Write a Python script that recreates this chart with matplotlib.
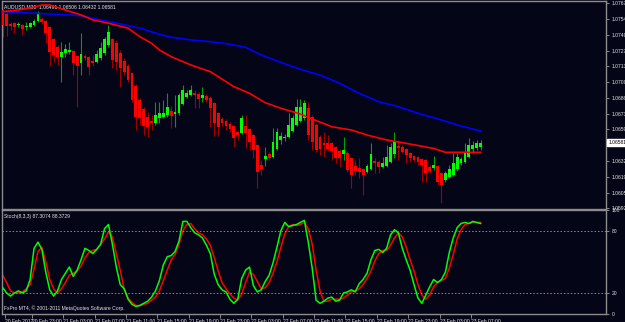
import matplotlib.pyplot as plt
from matplotlib import font_manager
from matplotlib.transforms import blended_transform_factory

# MT4 uses a small narrow font; take a narrow family when one is there
_names = {f.name for f in font_manager.fontManager.ttflist}
if 'Liberation Sans Narrow' in _names:
    FONT, FS = 'Liberation Sans Narrow', 4.3
else:
    FONT, FS = 'Liberation Sans', 3.6
plt.rcParams['font.family'] = [FONT, 'DejaVu Sans']

# AUDUSD M30 candles, oldest first
opens = [1.07617, 1.07583, 1.07498, 1.07506, 1.07485, 1.07489, 1.07468, 1.07472, 1.07489, 1.07523,
         1.07540, 1.07523, 1.07472, 1.07369, 1.07301, 1.07215, 1.07249, 1.07258, 1.07266, 1.07224,
         1.07164, 1.07224, 1.07215, 1.07177, 1.07172, 1.07207, 1.07249, 1.07318, 1.07369, 1.07335,
         1.07249, 1.07181, 1.07138, 1.07078, 1.06967, 1.06847, 1.06770, 1.06701, 1.06667, 1.06650,
         1.06693, 1.06701, 1.06719, 1.06753, 1.06731, 1.06736, 1.06813, 1.06873, 1.06890, 1.06907,
         1.06898, 1.06864, 1.06881, 1.06864, 1.06821, 1.06736, 1.06684, 1.06667, 1.06642, 1.06624,
         1.06573, 1.06565, 1.06624, 1.06599, 1.06547, 1.06462, 1.06291, 1.06342, 1.06385, 1.06359,
         1.06428, 1.06505, 1.06522, 1.06530, 1.06582, 1.06633, 1.06667, 1.06693, 1.06779, 1.06701,
         1.06633, 1.06530, 1.06479, 1.06479, 1.06479, 1.06445, 1.06410, 1.06385, 1.06393, 1.06350,
         1.06282, 1.06265, 1.06256, 1.06231, 1.06256, 1.06325, 1.06316, 1.06273, 1.06282, 1.06316,
         1.06385, 1.06445, 1.06445, 1.06428, 1.06393, 1.06367, 1.06359, 1.06342, 1.06333, 1.06273,
         1.06265, 1.06282, 1.06222, 1.06162, 1.06188, 1.06205, 1.06256, 1.06308, 1.06316, 1.06359,
         1.06428, 1.06436, 1.06445]
highs = [1.07626, 1.07600, 1.07515, 1.07515, 1.07515, 1.07498, 1.07515, 1.07515, 1.07540, 1.07609,
         1.07557, 1.07532, 1.07480, 1.07378, 1.07318, 1.07343, 1.07326, 1.07343, 1.07275, 1.07232,
         1.07420, 1.07241, 1.07224, 1.07232, 1.07275, 1.07343, 1.07386, 1.07489, 1.07378, 1.07361,
         1.07275, 1.07207, 1.07155, 1.07087, 1.06984, 1.06864, 1.06787, 1.06744, 1.06719, 1.06830,
         1.06830, 1.06847, 1.06907, 1.06796, 1.06890, 1.06907, 1.06975, 1.06933, 1.06975, 1.06933,
         1.06915, 1.06958, 1.06898, 1.06881, 1.06830, 1.06744, 1.06701, 1.06684, 1.06659, 1.06633,
         1.06590, 1.06719, 1.06719, 1.06607, 1.06556, 1.06470, 1.06333, 1.06445, 1.06402, 1.06607,
         1.06607, 1.06573, 1.06556, 1.06736, 1.06719, 1.06856, 1.06856, 1.06847, 1.06830, 1.06719,
         1.06650, 1.06547, 1.06573, 1.06547, 1.06488, 1.06453, 1.06428, 1.06530, 1.06410, 1.06359,
         1.06333, 1.06350, 1.06265, 1.06299, 1.06479, 1.06350, 1.06333, 1.06359, 1.06462, 1.06479,
         1.06573, 1.06505, 1.06462, 1.06436, 1.06402, 1.06376, 1.06367, 1.06350, 1.06342, 1.06291,
         1.06367, 1.06291, 1.06231, 1.06239, 1.06291, 1.06393, 1.06393, 1.06359, 1.06479, 1.06522,
         1.06496, 1.06505, 1.06505]
lows = [1.07386, 1.07395, 1.07446, 1.07420, 1.07472, 1.07403, 1.07446, 1.07463, 1.07480, 1.07515,
        1.07498, 1.07335, 1.07138, 1.07172, 1.07147, 1.07001, 1.07215, 1.07241, 1.07061, 1.06787,
        1.07061, 1.07189, 1.07061, 1.07138, 1.07164, 1.07189, 1.07232, 1.07301, 1.07121, 1.07104,
        1.06958, 1.07061, 1.07001, 1.06830, 1.06590, 1.06633, 1.06547, 1.06530, 1.06590, 1.06633,
        1.06650, 1.06693, 1.06701, 1.06607, 1.06616, 1.06719, 1.06804, 1.06864, 1.06881, 1.06779,
        1.06779, 1.06830, 1.06830, 1.06616, 1.06539, 1.06539, 1.06624, 1.06590, 1.06573, 1.06445,
        1.06505, 1.06556, 1.06436, 1.06419, 1.06350, 1.06094, 1.06205, 1.06282, 1.06333, 1.06350,
        1.06419, 1.06470, 1.06496, 1.06522, 1.06573, 1.06624, 1.06659, 1.06676, 1.06505, 1.06419,
        1.06402, 1.06376, 1.06359, 1.06410, 1.06333, 1.06308, 1.06273, 1.06333, 1.06231, 1.06094,
        1.06205, 1.06179, 1.06034, 1.06222, 1.06248, 1.06222, 1.06222, 1.06265, 1.06273, 1.06308,
        1.06350, 1.06333, 1.06393, 1.06308, 1.06316, 1.06316, 1.06291, 1.06145, 1.06145, 1.06222,
        1.06248, 1.06119, 1.05965, 1.06145, 1.06179, 1.06196, 1.06239, 1.06291, 1.06308, 1.06350,
        1.06393, 1.06419, 1.06419]
closes = [1.07489, 1.07480, 1.07480, 1.07472, 1.07493, 1.07455, 1.07480, 1.07506, 1.07523, 1.07592,
          1.07515, 1.07420, 1.07258, 1.07232, 1.07215, 1.07258, 1.07284, 1.07275, 1.07164, 1.07138,
          1.07241, 1.07207, 1.07130, 1.07164, 1.07241, 1.07292, 1.07369, 1.07429, 1.07189, 1.07172,
          1.07121, 1.07087, 1.07018, 1.06847, 1.06701, 1.06693, 1.06624, 1.06616, 1.06650, 1.06719,
          1.06736, 1.06736, 1.06787, 1.06710, 1.06740, 1.06890, 1.06933, 1.06907, 1.06933, 1.06890,
          1.06856, 1.06890, 1.06847, 1.06779, 1.06650, 1.06616, 1.06650, 1.06624, 1.06599, 1.06522,
          1.06547, 1.06693, 1.06565, 1.06488, 1.06419, 1.06231, 1.06256, 1.06367, 1.06350, 1.06488,
          1.06573, 1.06539, 1.06530, 1.06633, 1.06693, 1.06787, 1.06787, 1.06821, 1.06547, 1.06488,
          1.06419, 1.06428, 1.06462, 1.06428, 1.06410, 1.06350, 1.06350, 1.06419, 1.06248, 1.06205,
          1.06239, 1.06231, 1.06205, 1.06282, 1.06385, 1.06308, 1.06273, 1.06308, 1.06359, 1.06445,
          1.06488, 1.06440, 1.06402, 1.06376, 1.06350, 1.06333, 1.06316, 1.06291, 1.06222, 1.06239,
          1.06291, 1.06145, 1.06119, 1.06222, 1.06256, 1.06308, 1.06359, 1.06342, 1.06402, 1.06462,
          1.06462, 1.06479, 1.06479]

# moving averages, read at these bars
slow_ma_bars = [0, 10, 20, 25, 30, 35, 40, 43, 48, 53, 58, 62, 66, 70, 74, 78, 81, 86, 91, 96, 101, 106, 112, 117, 122]
slow_ma = [1.07603, 1.07586, 1.07569, 1.07532, 1.07498, 1.07461, 1.07409, 1.07384, 1.07361, 1.07346,
           1.07324, 1.07298, 1.07232, 1.07181, 1.07132, 1.07089, 1.07061, 1.06990, 1.06904, 1.06832,
           1.06790, 1.06733, 1.06676, 1.06624, 1.06582]
fast_ma_bars = [0, 4, 8, 10, 12, 16, 20, 23, 27, 32, 35, 38, 40, 43, 48, 53, 59, 63, 67, 71, 76, 79, 84, 89, 93, 98, 103, 110, 113, 122]
fast_ma = [1.07603, 1.07617, 1.07641, 1.07660, 1.07660, 1.07617, 1.07575, 1.07532, 1.07504, 1.07461,
           1.07389, 1.07332, 1.07275, 1.07218, 1.07147, 1.07089, 1.06961, 1.06904, 1.06824, 1.06776,
           1.06727, 1.06684, 1.06618, 1.06590, 1.06547, 1.06505, 1.06476, 1.06432, 1.06399, 1.06399]

# Stochastic(8,3,3): main and signal
stoch_main = [25, 20, 17, 20, 22, 20, 22, 33, 63, 69, 62, 40, 23, 17, 22, 33, 39, 45, 36, 42,
              52, 63, 61, 58, 62, 67, 82, 86, 67, 45, 28, 24, 14, 9, 7, 8, 10, 12, 16, 22,
              32, 47, 55, 56, 60, 70, 89, 89, 83, 78, 76, 73, 66, 58, 38, 28, 23, 21, 14, 10,
              14, 34, 42, 45, 27, 21, 23, 31, 37, 49, 64, 80, 88, 84, 85, 86, 88, 90, 69, 44,
              13, 10, 12, 15, 16, 12, 13, 20, 21, 23, 21, 29, 33, 39, 52, 61, 62, 59, 63, 76,
              81, 78, 63, 52, 42, 28, 15, 10, 18, 26, 33, 30, 33, 40, 59, 73, 83, 87, 88, 87,
              89, 88, 87]
stoch_signal = [37, 30, 22, 20, 20, 21, 24, 28, 43, 60, 64, 50, 33, 24, 20, 24, 30, 37, 39, 41,
                46, 54, 59, 61, 62, 67, 72, 79, 74, 58, 42, 24, 15, 11, 8, 7.5, 9, 10, 13, 16,
                22, 32, 42, 52, 57, 67, 80, 86, 87, 82, 78, 76, 72, 66, 54, 41, 30, 24, 19, 15,
                13, 19, 30, 40, 38, 31, 24, 25, 30, 39, 50, 64, 77, 84, 86, 85, 86, 88, 82, 67,
                42, 22, 12, 12, 14, 14, 14, 15, 18, 21, 22, 24, 28, 34, 41, 51, 58, 61, 61, 66,
                73, 78, 74, 64, 52, 41, 28, 18, 14, 18, 26, 30, 32, 34, 44, 57, 72, 81, 86, 87,
                88, 88, 88]

price_ticks = [1.07675, 1.07540, 1.07405, 1.07270, 1.07135, 1.07000, 1.06865, 1.06730,
               1.06595, 1.06460, 1.06325, 1.06190, 1.06055, 1.05920]
stoch_ticks = [100, 80, 20, 0]
time_label_bars = [0, 7, 15, 23, 31, 39, 47, 55, 63, 71, 79, 87, 95, 103, 111, 119]
time_labels = ["20 Feb 2012", "20 Feb 23:00", "21 Feb 03:00", "21 Feb 07:00", "21 Feb 11:00",
               "21 Feb 15:00", "21 Feb 19:00", "21 Feb 23:00", "22 Feb 03:00", "22 Feb 07:00",
               "22 Feb 11:00", "22 Feb 15:00", "22 Feb 19:00", "22 Feb 23:00", "23 Feb 03:00",
               "23 Feb 07:00"]

BG = '#050518'
EDGE = '#8c8c8c'
TXT = '#e6e6e6'

fig = plt.figure(figsize=(6.25, 3.22), dpi=100, facecolor=BG)
W, H = 625, 322
ax = fig.add_axes([2 / W, (H - 209) / H, 604 / W, 208 / H])
ax2 = fig.add_axes([2 / W, (H - 314) / H, 604 / W, 104 / H])

for a in (ax, ax2):
    a.set_facecolor(BG)
    for s in a.spines.values():
        s.set_color(EDGE)
        s.set_linewidth(1.0)
    a.set_xlim(-0.18, 154.0)
    a.yaxis.tick_right()
    a.tick_params(axis='y', colors=EDGE, labelcolor=TXT, labelsize=FS, length=2.5, width=0.7, pad=1.5)

# candles
x = list(range(len(opens)))
up = [c >= o for o, c in zip(opens, closes)]
wick_col = ['#00a000' if u else '#a00000' for u in up]
body_col = ['#00ff00' if u else '#ff0000' for u in up]
ax.vlines(x, lows, highs, colors=wick_col, linewidth=0.8, zorder=2)
bottoms = [min(o, c) for o, c in zip(opens, closes)]
heights = [max(abs(c - o), 0.00009) for o, c in zip(opens, closes)]
ax.bar(x, heights, bottom=bottoms, width=0.72, color=body_col, linewidth=0, zorder=3)

ax.plot(slow_ma_bars, slow_ma, color='#0000ff', linewidth=1.2, zorder=4)
ax.plot(fast_ma_bars, fast_ma, color='#ff0000', linewidth=1.2, zorder=4)

ax.set_ylim(1.05914, 1.07694)
ax.set_yticks(price_ticks)
ax.set_yticklabels([f"{p:.5f}" for p in price_ticks])
ax.set_xticks([])
ax.text(0.004, 0.985, "AUDUSD,M30  1.06491 1.06506 1.06432 1.06581", transform=ax.transAxes,
        color=TXT, fontsize=FS, va='top', ha='left')

# current price box on the price scale
tr = blended_transform_factory(ax.transAxes, ax.transData)
ax.text(1.004, closes[-1], "1.06581", transform=tr, fontsize=FS, color='black', va='center', ha='left',
        bbox=dict(boxstyle='square,pad=0.2', facecolor='white', edgecolor='white'), zorder=10, clip_on=False)

# stochastic window
ax2.plot(x, stoch_main, color='#00ff00', linewidth=1.1, zorder=3)
ax2.plot(x, stoch_signal, color='#ff0000', linewidth=1.1, zorder=2)
ax2.axhline(80, color=EDGE, linewidth=0.7, linestyle=(0, (1.5, 2)))
ax2.axhline(20, color=EDGE, linewidth=0.7, linestyle=(0, (1.5, 2)))
ax2.set_ylim(-0.3, 100)
ax2.set_yticks(stoch_ticks)
ax2.set_yticklabels([str(t) for t in stoch_ticks])
# MT4 puts the time mark at the slot edge, text to its right
ax2.set_xticks([b + 0.5 for b in time_label_bars])
ax2.set_xticklabels(time_labels, ha='left')
ax2.tick_params(axis='x', colors=EDGE, labelcolor=TXT, labelsize=FS, length=3, width=0.7, pad=0.5)
ax2.text(0.003, 0.965, "Stoch(8,3,3) 87.3074 88.3729", transform=ax2.transAxes,
         color=TXT, fontsize=FS, va='top', ha='left')
ax2.text(0.003, 0.03, "FxPro MT4, \u00a9 2001-2011 MetaQuotes Software Corp.", transform=ax2.transAxes,
         color=TXT, fontsize=FS, va='bottom', ha='left')

fig.savefig("out.png", dpi=100, facecolor=BG)
